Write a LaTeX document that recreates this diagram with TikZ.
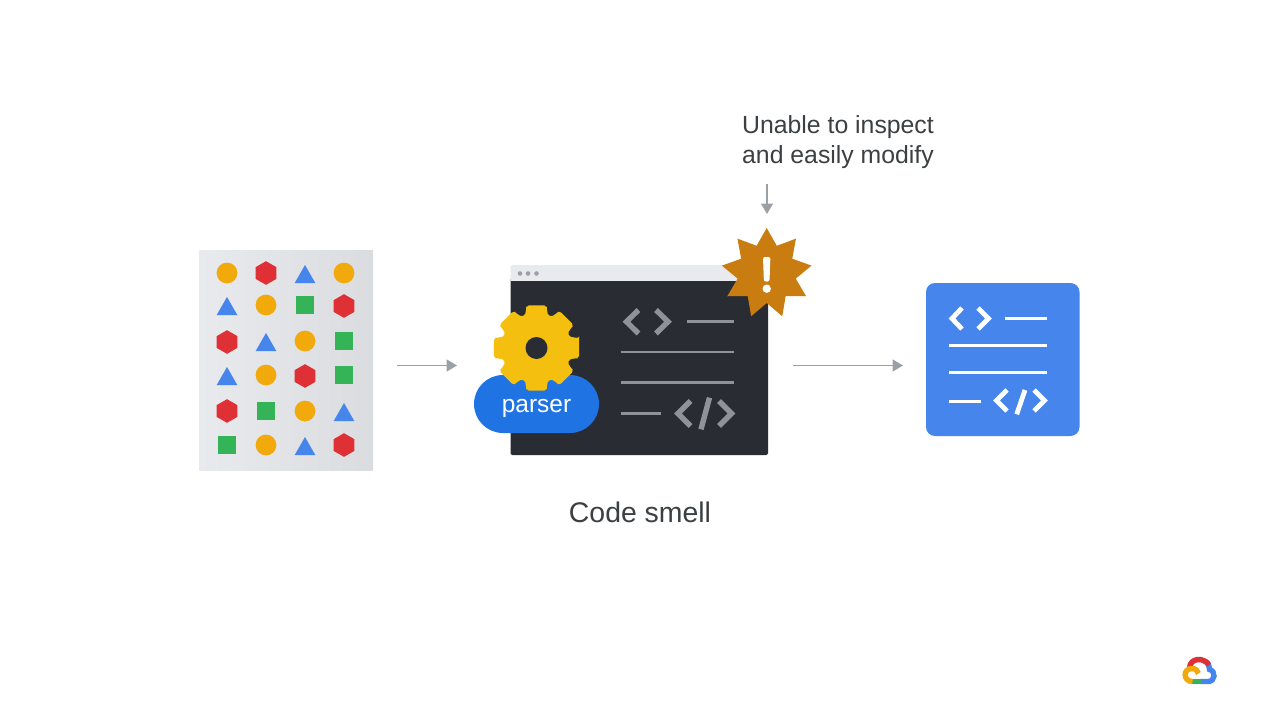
\documentclass[tikz,border=0pt]{standalone}
\usepackage{fontspec}
\setmainfont{Liberation Sans}
\usepackage{xcolor}
\usetikzlibrary{arrows.meta,positioning,calc}

\definecolor{ink}{HTML}{3C4043}
\definecolor{arrowgrey}{HTML}{9AA0A6}
\definecolor{panelgrey}{HTML}{E8EAED}
\definecolor{paneldark}{HTML}{DADCE0}
\definecolor{windark}{HTML}{292C33}
\definecolor{codegrey}{HTML}{8F9299}
\definecolor{gblue}{HTML}{4685EC}
\definecolor{gred}{HTML}{DF3036}
\definecolor{ggreen}{HTML}{34B457}
\definecolor{gamber}{HTML}{F2A90B}
\definecolor{gearyellow}{HTML}{F4BF0F}
\definecolor{parserblue}{HTML}{1F73E3}
\definecolor{badgeorange}{HTML}{C97C10}

\tikzset{
    flowarrow/.style={draw=arrowgrey, line width=1.7pt, -{Triangle[length=10.5pt,width=12pt]}},
    codeline/.style={line width=2.8pt},
    codeglyph/.style={line width=5.4pt},
    caption/.style={text=ink, align=left, inner sep=0pt},
}
\newcommand{\tokcirc}[2]{\fill[gamber] (#1,#2) circle (10.4);}
\newcommand{\tokhex}[2]{\fill[gred] (#1,#2-11.8) -- (#1+10.3,#2-5.9) -- (#1+10.3,#2+5.9) -- (#1,#2+11.8) -- (#1-10.3,#2+5.9) -- (#1-10.3,#2-5.9) -- cycle;}
\newcommand{\toktri}[2]{\fill[gblue] (#1,#2-9) -- (#1+10.3,#2+9) -- (#1-10.3,#2+9) -- cycle;}
\newcommand{\toksq}[2]{\fill[ggreen] (#1-9.2,#2-9.2) rectangle (#1+9.2,#2+9.2);}

\begin{document}
\begin{tikzpicture}[x=1pt, y=-1pt]
    \useasboundingbox (0,0) rectangle (1280,720);
    \fill[white] (0,0) rectangle (1280,720);

    % Input panel
    \shade[left color=panelgrey, right color=paneldark] (199,250) rectangle (373,470);
    \foreach \px/\py/\kind in {
        227/273/circ, 266/273/hex, 305/274/tri, 344/273/circ,
        227/306/tri, 266/305/circ, 305/305/sq, 344/306/hex,
        227/342/hex, 266/342/tri, 305/341/circ, 344/341/sq,
        227/376/tri, 266/375/circ, 305/376/hex, 344/375/sq,
        227/411/hex, 266/411/sq, 305/411/circ, 344/412/tri,
        227/445/sq, 266/445/circ, 305/446/tri, 344/445/hex} {
        \csname tok\kind\endcsname{\px}{\py}
    }

    % Arrows
    \coordinate (in1) at (397,365.5);
    \coordinate (in2) at (457,365.5);
    \coordinate (out1) at (793,365.5);
    \coordinate (out2) at (903,365.5);
    \coordinate (warn1) at (767,184);
    \coordinate (warn2) at (767,214);
    \draw[flowarrow] (in1) -- (in2);
    \draw[flowarrow] (out1) -- (out2);
    \draw[flowarrow] (warn1) -- (warn2);

    % Code window
    \fill[windark, rounded corners=2pt] (510.5,278) rectangle (768,455);
    \fill[panelgrey, rounded corners=2pt] (510.5,265) rectangle (768,283);
    \fill[windark] (510.5,281) rectangle (768,286);
    \foreach \dotx in {520,528,536.5} {
        \fill[arrowgrey] (\dotx,273.5) circle (2.3);
    }
    \begin{scope}[draw=codegrey]
        \draw[codeglyph] (638.5,310) -- (626.5,321.7) -- (638.5,333.5);
        \draw[codeglyph] (656,310) -- (668,321.7) -- (656,333.5);
        \draw[codeline] (686.7,321.7) -- (733.5,321.7);
        \draw[codeline] (620.7,352) -- (733.5,352);
        \draw[codeline] (620.7,382.3) -- (733.5,382.3);
        \draw[codeline] (620.7,413.3) -- (660.7,413.3);
        \draw[codeglyph] (690.5,401) -- (678,413.5) -- (690.5,426);
        \draw[codeglyph] (709.5,397.7) -- (701,429.3);
        \draw[codeglyph] (719,401) -- (731.5,413.5) -- (719,426);
    \end{scope}

    % Parser
    \fill[parserblue, rounded corners=29pt] (474,375) rectangle (599,433);
    \begin{scope}[shift={(536.5,348)}]
        \fill[gearyellow, rounded corners=2pt] (-13:43.7)
            \foreach \ang in {0,45,...,315} {
                -- (\ang-13:43.7) -- (\ang+13:43.7) -- (\ang+15:41)
                .. controls (\ang+18:33.5) and (\ang+27:33.5) .. (\ang+30:41)
            } -- cycle;
        \fill[windark] (0,0) circle (11);
    \end{scope}
    \node[text=white, font=\fontsize{24.5}{28}\selectfont] (parser) at (536.5,408.5) {parser};

    % Warning badge
    \begin{scope}[shift={(766.7,273.5)}]
        \fill[badgeorange] (-90:45.5)
            \foreach \ang in {0,40,...,320} {
                -- (-90+\ang:45.5) -- (-70+\ang:29.5)
            } -- cycle;
        \fill[white, rounded corners=2pt] (-3.7,-16.5) -- (3.7,-16.5) -- (2.8,8) -- (-2.8,8) -- cycle;
        \fill[white] (0,15.2) circle (4.2);
    \end{scope}

    % Output card
    \fill[gblue, rounded corners=9pt] (926,283) rectangle (1079.5,436);
    \begin{scope}[draw=white]
        \draw[codeglyph, line width=4.8pt] (962,308) -- (952,318.5) -- (962,329);
        \draw[codeglyph, line width=4.8pt] (978,308) -- (988.5,318.5) -- (978,329);
        \draw[codeline] (1005,318.3) -- (1047.3,318.3);
        \draw[codeline] (949.3,345.3) -- (1047.3,345.3);
        \draw[codeline] (949.3,372.7) -- (1047.3,372.7);
        \draw[codeline] (949.3,401.7) -- (981,401.7);
        \draw[codeglyph, line width=4.8pt] (1007,390) -- (996.5,400.5) -- (1007,411);
        \draw[codeglyph, line width=4.8pt] (1025,390) -- (1016.7,414.3);
        \draw[codeglyph, line width=4.8pt] (1034,390) -- (1044.5,400.5) -- (1034,411);
    \end{scope}

    % Labels
    \node[caption, anchor=north west, font=\fontsize{24.8}{30}\selectfont] (unable) at (742,115.5) {Unable to inspect\\and easily modify};
    \node[caption, font=\fontsize{28.4}{32}\selectfont] (smell) at (640,512) {Code smell};

    % Logo
    \begin{scope}[line width=5.4pt]
        \draw[gblue] (1205,661) .. controls (1209,664) and (1209.5,667) .. (1209.5,669.5)
            .. controls (1216,671) and (1215.5,681.5) .. (1208,681.5) -- (1200,681.5);
        \draw[gred] (1189.5,668) .. controls (1190,657.5) and (1204,657) .. (1209,665);
        \draw[ggreen] (1200.5,681.5) -- (1191,681.5);
        \draw[gamber] (1192.5,681.5) .. controls (1183,681.5) and (1182.5,668.5) .. (1192,668.5)
            .. controls (1195.5,668.5) and (1197.5,670.5) .. (1198.5,673.5);
    \end{scope}
\end{tikzpicture}
\end{document}
